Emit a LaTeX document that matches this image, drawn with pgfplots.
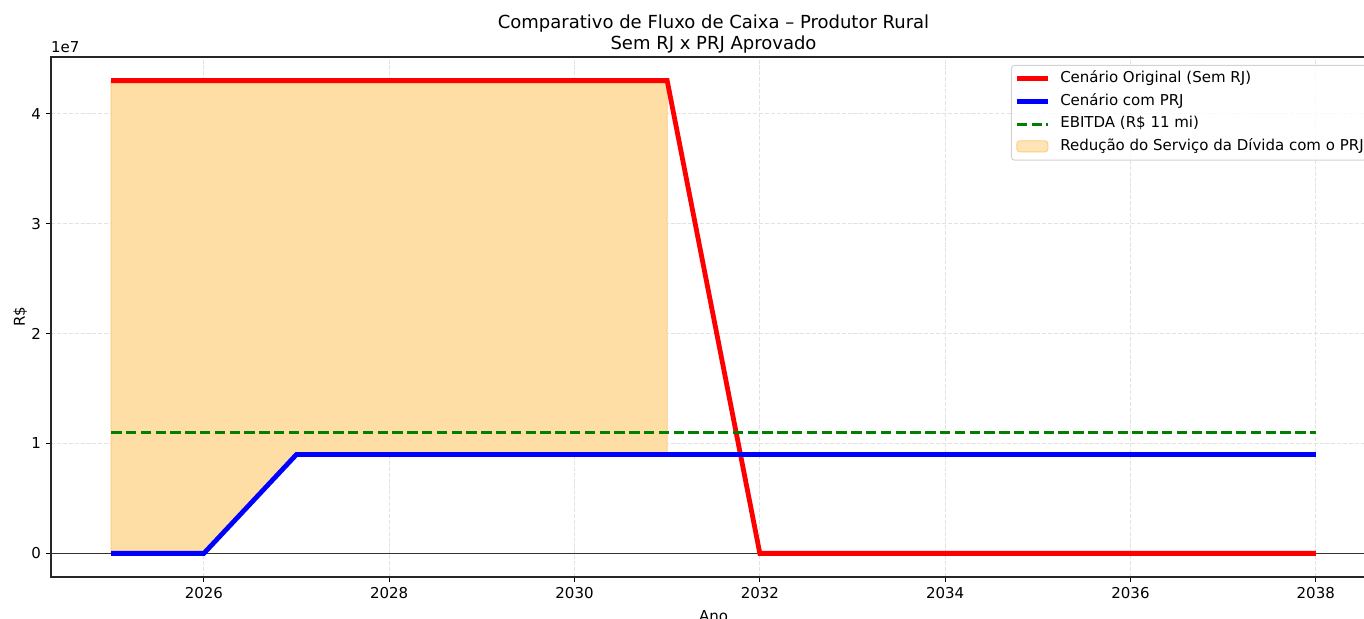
\documentclass[border=0pt]{standalone}
\usepackage{fontspec}
\setmainfont{DejaVu Sans}
\usepackage{pgfplots}
\pgfplotsset{compat=1.18}
\definecolor{fillc}{RGB}{255,222,166}
\definecolor{fille}{RGB}{255,205,130}
\definecolor{mplgreen}{RGB}{0,128,0}
\definecolor{gridc}{RGB}{226,226,226}
\begin{document}
\fontsize{15}{18}\selectfont
\begin{tikzpicture}
\useasboundingbox (0,0) rectangle (1364pt,618pt);
\clip (0,0) rectangle (1364pt,618pt);
\begin{axis}[
  at={(51pt,41pt)}, anchor=south west,
  scale only axis, width=1325pt, height=520pt,
  clip mode=individual,
  xmin=2024.35, xmax=2038.65, ymin=-2.15e6, ymax=4.515e7,
  xtick={2026,2028,2030,2032,2034,2036,2038},
  ytick={0,1e7,2e7,3e7,4e7}, yticklabels={0,1,2,3,4},
  scaled y ticks=false,
  /pgf/number format/assume math mode=true,
  xticklabel style={/pgf/number format/.cd,1000 sep={}},
  tick label style={font=\fontsize{15}{18}\selectfont},
  label style={font=\fontsize{15}{18}\selectfont},
  tick align=outside, major tick length=4.9pt,
  xtick pos=bottom, ytick pos=left,
  every tick/.style={black, line width=1.1pt},
  axis line style={black!85, line width=1.1pt},
  grid=major,
  major grid style={gridc, line width=1.1pt, dash pattern=on 4.1pt off 1.8pt},
  title={Comparativo de Fluxo de Caixa – Produtor Rural\\Sem RJ x PRJ Aprovado},
  title style={align=center, font=\fontsize{18}{21}\selectfont, yshift=-7pt},
  xlabel={Ano}, ylabel={R\$},
  xlabel style={yshift=-2pt},
  ylabel style={yshift=-6pt},
  legend cell align=left,
  legend style={at={(0.7245,0.9846)}, anchor=north west,
    draw=gray!35, line width=1pt, rounded corners=3pt, fill=white, fill opacity=0.8, text opacity=1,
    font=\fontsize{15}{18}\selectfont, inner xsep=3pt, inner ysep=6pt, row sep=8.2pt,
    nodes={inner sep=0pt, text height=11pt, text depth=3.5pt},
    /tikz/every odd column/.append style={column sep=10pt}},
  legend image code/.code={\draw[#1] (0pt,0pt) -- (31pt,0pt);},
]
\addplot[fill=fillc, draw=fille, line width=1pt, forget plot] coordinates {
  (2025,4.3e7) (2026,4.3e7) (2027,4.3e7) (2028,4.3e7) (2029,4.3e7) (2030,4.3e7) (2031,4.3e7)
  (2031,9e6) (2030,9e6) (2029,9e6) (2028,9e6) (2027,9e6) (2026,0) (2025,0)} -- cycle;
\addplot[black!80, line width=1.4pt, forget plot] coordinates {(2024.35,0) (2038.65,0)};
\addplot[red, line width=4.8pt] coordinates {
  (2025,4.3e7) (2026,4.3e7) (2027,4.3e7) (2028,4.3e7) (2029,4.3e7) (2030,4.3e7) (2031,4.3e7)
  (2032,0) (2033,0) (2034,0) (2035,0) (2036,0) (2037,0) (2038,0)};
\addlegendentry{Cenário Original (Sem RJ)}
\addplot[blue, line width=4.8pt] coordinates {
  (2025,0) (2026,0) (2027,9e6) (2028,9e6) (2029,9e6) (2030,9e6) (2031,9e6)
  (2032,9e6) (2033,9e6) (2034,9e6) (2035,9e6) (2036,9e6) (2037,9e6) (2038,9e6)};
\addlegendentry{Cenário com PRJ}
\addplot[mplgreen, line width=2.9pt, dash pattern=on 10.3pt off 4.5pt] coordinates {
  (2025,1.1e7) (2038,1.1e7)};
\addlegendentry{EBITDA (R\$ 11 mi)}
\addlegendimage{legend image code/.code={\draw[fill=fillc, draw=fille, line width=1pt] (0pt,-5pt) rectangle (31pt,6pt);}}
\addlegendentry{Redução do Serviço da Dívida com o PRJ}
\node[anchor=south west, inner sep=0pt, font=\fontsize{15}{18}\selectfont] at (rel axis cs:0,1) [yshift=4pt] {1e7};
\end{axis}
\end{tikzpicture}
\end{document}
